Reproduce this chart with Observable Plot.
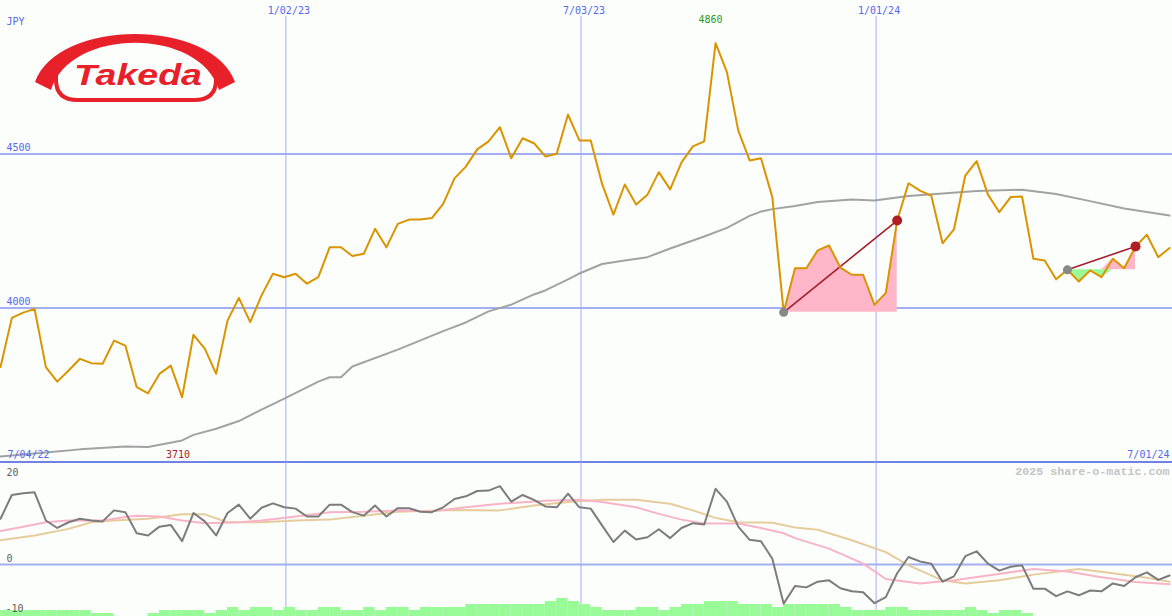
<!DOCTYPE html>
<html><head><meta charset="utf-8">
<script src="https://cdn.jsdelivr.net/npm/d3@7"></script>
<script src="https://cdn.jsdelivr.net/npm/@observablehq/plot@0.6"></script>
<style>
body{margin:0;background:#fcfefc;}
#wrap{position:relative;width:1172px;height:616px;overflow:hidden;background:#fcfefc;}
#wrap > *{position:absolute;left:0;}
</style></head><body><div id="wrap"></div>
<script>
// ---- data (weekly) ----
const startDate = Date.UTC(2022, 6, 10);
const DAY = 86400000;
const price = [3808,3968,3985,3997,3808,3761,3797,3835,3821,3819,
  3894,3878,3743,3723,3786,3813,3710,3913,3868,3786,
  3959,4033,3954,4041,4111,4100,4111,4079,4100,4197,
  4197,4169,4176,4257,4197,4273,4287,4287,4292,4338,
  4421,4459,4515,4541,4587,4486,4551,4535,4492,4501,
  4628,4544,4544,4403,4303,4401,4336,4368,4441,4385,
  4473,4525,4541,4860,4766,4576,4479,4486,4360,3986,
  4129,4129,4187,4203,4131,4108,4108,4010,4049,4284,
  4405,4381,4365,4210,4255,4430,4477,4368,4311,4360,
  4362,4160,4154,4093,4124,4086,4122,4100,4160,4129,
  4200,4238,4165,4195];
const maIdx = [0,4,7,11,13,16,17,19,21,23,25,28,29,30,31,35,39,41,43,45,47,48,50,51,53,55,57,59,62,64,66,67,68,70,72,75,77,80,83,86,90,93,96,99,103];
const maVal = [3518,3531,3541,3550,3549,3570,3588,3608,3633,3670,3706,3761,3775,3775,3810,3865,3925,3953,3989,4011,4044,4057,4093,4112,4143,4154,4165,4193,4232,4260,4299,4313,4321,4331,4344,4352,4349,4364,4372,4380,4384,4370,4347,4323,4300];
const patStart = [69, 94];
const patEnd = [79, 100];
const osc = [10.4,15.8,16.2,16.4,10.0,8.3,9.6,10.4,10.0,9.8,
  12.3,11.9,7.1,6.6,8.6,9.0,5.3,11.7,9.8,6.6,
  11.7,13.6,10.4,12.9,13.9,13.0,12.7,10.9,10.9,13.6,
  13.6,11.9,11.1,13.4,10.9,12.8,12.8,12.0,11.9,13.0,
  14.9,15.5,16.7,16.8,17.8,14.3,15.8,14.7,13.2,13.0,
  16.1,13.0,12.7,8.9,5.1,7.7,5.7,6.2,8.0,6.0,
  8.3,9.4,9.1,17.2,14.3,8.6,5.6,5.3,1.3,-8.9,
  -4.9,-5.2,-3.9,-3.6,-5.4,-6.1,-6.3,-8.8,-7.4,-2.0,
  1.7,0.7,0.2,-3.9,-2.7,1.9,3.0,0.2,-1.4,-0.5,
  -0.2,-5.5,-5.5,-7.2,-6.1,-7.0,-5.9,-6.1,-4.3,-4.9,
  -2.9,-1.8,-3.5,-2.5];
const pinkIdx = [0,2,4,6,9,11,12,14,16,18,21,23,26,29,32,35,38,41,44,48,51,53,56,58,60,62,65,67,69,70,73,76,78,81,84,87,91,94,97,100,103];
const pinkVal = [7.6,8.6,9.6,10.0,10.0,10.8,11.1,10.9,10.0,9.4,9.6,10.0,10.9,11.9,12.0,12.3,12.1,13.0,13.8,14.5,14.7,14.2,13.0,11.5,10.2,9.3,9.3,8.3,7.1,6.0,3.6,0.2,-3.3,-4.3,-3.6,-2.5,-1.0,-1.6,-2.9,-4.0,-4.5];
const tanIdx = [0,3,6,8,10,13,16,18,20,23,26,29,32,35,40,44,47,50,53,56,59,61,63,65,68,70,72,75,78,80,83,85,88,91,95,98,101,103];
const tanVal = [5.5,6.6,8.1,9.6,10.0,10.4,11.4,11.4,9.6,9.6,10.0,10.2,11.1,12.0,12.4,12.3,13.4,14.2,14.7,14.7,13.8,12.3,10.6,9.6,9.5,8.4,7.9,5.5,2.8,-0.2,-3.6,-4.3,-3.6,-2.3,-1.0,-2.0,-3.0,-3.9];
const vol = [2,2,2,2,2,2,2,2,1,1, 0,0,0,1,2,2,2,2,1,2, 3,2,3,3,2,3,2,2,3,3,
  2,2,3,2,3,3,2,3,3,3, 3,4,4,4,4,4,4,4,5,6, 5,4,3,2,2,2,3,3,2,3,
  4,4,5,5,5,4,4,4,3,4, 4,4,4,4,3,2,2,2,3,3, 2,2,2,2,2,3,2,1,2,2,
  1,0,0,0,0,0,0,0,0,0, 0,0,0,0];
const gridDates = [Date.UTC(2023,0,2), Date.UTC(2023,6,3), Date.UTC(2024,0,1)];
const gridLabels = ["1/02/23", "7/03/23", "1/01/24"];
const priceLines = [4000, 4500];
const startLabel = "7/04/22", endLabel = "7/01/24";
const maxIdx = 63, maxLabel = "4860";
const minIdx = 16, minLabel = "3710";

// ---- build ----
const weekDate = i => new Date(startDate + 7 * i * DAY);
const xDomain = [new Date(startDate), new Date(startDate + 722.8 * DAY)];
const X = () => ({type: "utc", domain: xDomain, range: [0, 1172], axis: null});
const GRID = "#a4aef2", BLUE = "#5568ee", FONT = "DejaVu Sans Mono";
const gridD = gridDates.map(d => new Date(d));
const M = "middle";

const priceData = price.map((p, i) => ({date: weekDate(i), p}));
const maData = maIdx.map((k, j) => ({date: weekDate(k), v: maVal[j]}));
const fills = patStart.flatMap((s, j) => d3.range(s, patEnd[j] + 1)
  .map(i => ({date: weekDate(i), base: price[s], p: price[i], pat: j})));
const links = patStart.map((s, j) => ({d1: weekDate(s), p1: price[s], d2: weekDate(patEnd[j]), p2: price[patEnd[j]]}));

const wrap = document.getElementById("wrap");

const main = Plot.plot({
  width: 1172, height: 462, margin: 0,
  x: X(),
  y: {domain: [3500, 5000], range: [461.5, -0.5], axis: null},
  style: {background: "transparent", overflow: "visible", fontFamily: FONT, fontSize: "10px"},
  marks: [
    Plot.ruleX(gridD, {stroke: GRID, strokeWidth: 1, insetTop: 16}),
    Plot.ruleY(priceLines, {stroke: GRID, strokeWidth: 2}),
    Plot.ruleY([3500], {stroke: "#7282e4", strokeWidth: 2}),
    Plot.line(maData, {x: "date", y: "v", stroke: "#a2a2a2", strokeWidth: 2}),
    Plot.areaY(fills, {x: "date", y1: "base", y2: d => Math.max(d.p, d.base), z: "pat", fill: "#ffb6c8"}),
    Plot.areaY(fills, {x: "date", y1: "base", y2: d => Math.min(d.p, d.base), z: "pat", fill: "#98fb98"}),
    Plot.link(links, {x1: "d1", y1: "p1", x2: "d2", y2: "p2", stroke: "#a51d2a", strokeWidth: 1.6}),
    Plot.line(priceData, {x: "date", y: "p", stroke: "#da9400", strokeWidth: 2}),
    Plot.dot(patStart, {x: i => weekDate(i), y: i => price[i], r: 4.5, fill: "#888888"}),
    Plot.dot(patEnd, {x: i => weekDate(i), y: i => price[i], r: 5, fill: "#b01e22"}),
    Plot.text(gridD, {x: d => d, text: (d, i) => gridLabels[i], frameAnchor: "top", lineAnchor: M, dy: 10, dx: 3, fill: BLUE}),
    Plot.text(["JPY"], {frameAnchor: "top-left", lineAnchor: M, dx: 6, dy: 21, textAnchor: "start", fill: BLUE}),
    Plot.text(priceLines, {y: d => d, text: d => String(d), frameAnchor: "left", lineAnchor: M, dx: 6, dy: -6, textAnchor: "start", fill: BLUE}),
    Plot.text([maxLabel], {x: weekDate(maxIdx), y: price[maxIdx], lineAnchor: M, dy: -23, dx: -5, fill: "#1f9a1f"}),
    Plot.text([minLabel], {x: weekDate(minIdx), frameAnchor: "bottom", lineAnchor: M, dy: -8, dx: -4, fill: "#a51d2a"}),
    Plot.text([startLabel], {frameAnchor: "bottom-left", lineAnchor: M, dx: 7, dy: -8, textAnchor: "start", fill: BLUE}),
    Plot.text([endLabel], {frameAnchor: "bottom-right", lineAnchor: M, dx: -3, dy: -8, textAnchor: "end", fill: BLUE})
  ]
});
main.style.top = "0px";
wrap.appendChild(main);

// volume layer (beneath indicator lines)
const volPlot = Plot.plot({
  width: 1172, height: 154, margin: 0,
  x: X(),
  y: {domain: [0, 10], range: [154, 124], axis: null},
  style: {background: "transparent", overflow: "visible"},
  marks: [
    Plot.ruleX(gridD, {stroke: GRID, strokeWidth: 1}),
    Plot.rectY(d3.range(vol.length).filter(i => vol[i] > 0),
      {x1: i => weekDate(i), x2: i => weekDate(i + 1), y: i => vol[i], fill: "#98fb98"})
  ]
});
volPlot.style.top = "462px";
wrap.appendChild(volPlot);

const oscData = osc.map((v, i) => ({date: weekDate(i), v}));
const pinkData = pinkIdx.map((k, j) => ({date: weekDate(k), v: pinkVal[j]}));
const tanData = tanIdx.map((k, j) => ({date: weekDate(k), v: tanVal[j]}));
const lower = Plot.plot({
  width: 1172, height: 154, margin: 0,
  x: X(),
  y: {domain: [0, 20], range: [102, 14], axis: null},
  style: {background: "transparent", overflow: "visible", fontFamily: FONT, fontSize: "10px"},
  marks: [
    Plot.ruleY([0], {stroke: GRID, strokeWidth: 2}),
    Plot.line(tanData, {x: "date", y: "v", stroke: "#e6cc9c", strokeWidth: 2}),
    Plot.line(pinkData, {x: "date", y: "v", stroke: "#f8b4c6", strokeWidth: 2}),
    Plot.line(oscData, {x: "date", y: "v", stroke: "#7c7c7c", strokeWidth: 2}),
    Plot.text([20], {y: d => d, text: d => String(d), frameAnchor: "left", lineAnchor: M, dx: 6, dy: -4, textAnchor: "start", fill: "#606060"}),
    Plot.text([0], {y: d => d, text: d => String(d), frameAnchor: "left", lineAnchor: M, dx: 6, dy: -6, textAnchor: "start", fill: "#606060"}),
    Plot.text([-10], {y: d => d, text: d => String(d), frameAnchor: "left", lineAnchor: M, dx: 5, dy: 0, textAnchor: "start", fill: "#606060"}),
    Plot.text(["2025 share-o-matic.com"], {frameAnchor: "top-right", lineAnchor: M, dx: -3, dy: 9, textAnchor: "end",
      fill: "#c4c4c4", fontWeight: "bold", fontSize: 11.7, fontFamily: "Liberation Mono"})
  ]
});
lower.style.top = "462px";
wrap.appendChild(lower);

// Takeda logo
const logo = document.createElementNS("http://www.w3.org/2000/svg", "svg");
logo.setAttribute("width", "280"); logo.setAttribute("height", "120");
logo.style.top = "0px";
logo.innerHTML = `
<path d="M35,82 C58,18 212,18 235,82 L219,90 C200,27 70,27 51,90 Z" fill="#e8202a"/>
<path d="M56,72 L56,80 Q56,100 78,100 L194,100 Q216,100 216,80 L216,72" fill="none" stroke="#e8202a" stroke-width="4"/>
<text x="138" y="85" text-anchor="middle" font-family="Liberation Sans" font-weight="bold" font-style="italic" font-size="30" textLength="128" lengthAdjust="spacingAndGlyphs" fill="#e8202a">Takeda</text>`;
wrap.appendChild(logo);
</script></body></html>
